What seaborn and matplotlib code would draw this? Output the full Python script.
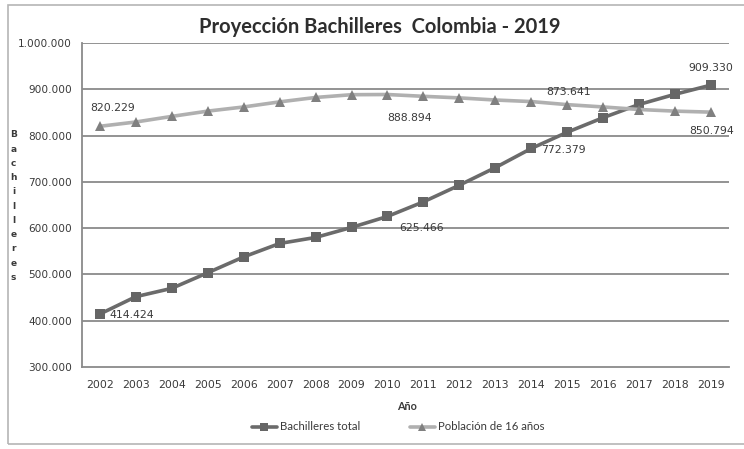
import matplotlib
matplotlib.use("Agg")
import matplotlib.pyplot as plt
import matplotlib.ticker as mticker
from matplotlib.patches import Rectangle
from matplotlib.lines import Line2D
import seaborn as sns
import pandas as pd

years = list(range(2002, 2020))
bachilleres = [414424, 452000, 470000, 503700, 538000, 567000, 580000, 601700, 625466,
               657000, 693000, 731000, 772379, 807500, 839000, 867500, 889500, 909330]
poblacion = [820229, 829500, 841600, 853000, 862000, 873000, 882500, 888500, 888894,
             885000, 881600, 877000, 873641, 867000, 862000, 856500, 853000, 850794]
series_names = ["Bachilleres total", "Población de 16 años"]
yticks = [300000, 400000, 500000, 600000, 700000, 800000, 900000, 1000000]

df = pd.concat([
    pd.DataFrame({"Año": years, "valor": bachilleres, "serie": series_names[0]}),
    pd.DataFrame({"Año": years, "valor": poblacion, "serie": series_names[1]}),
])

sns.set_theme(style="white")
plt.rcParams["font.family"] = ["DejaVu Sans"]

fig = plt.figure(figsize=(7.44, 4.49), dpi=100)
ax = fig.add_axes([0.110, 0.1826, 0.870, 0.7214])

grid_c = "#8a8a8a"
for v in yticks[1:]:
    ax.axhline(v, color=grid_c, lw=1.3, zorder=0)

palette = {series_names[0]: "#6b6b6b", series_names[1]: "#b0b0b0"}
markers = {series_names[0]: "s", series_names[1]: "^"}
sns.lineplot(data=df, x="Año", y="valor", hue="serie", style="serie",
             palette=palette, markers=markers, dashes=False, lw=2.6,
             markersize=7, markeredgewidth=0, ax=ax, legend=False, zorder=3)
for line, mc in zip(ax.get_lines()[-2:], ["#666666", "#808080"]):
    line.set_markerfacecolor(mc)
ax.get_lines()[-1].set_markersize(6.5)

ax.set_xlim(2001.5, 2019.5)
ax.set_ylim(300000, 1000000)
ax.set_xticks(years)
ax.set_xticks([y + 0.5 for y in [2001] + years], minor=True)
ax.set_yticks(yticks)
ax.yaxis.set_major_formatter(mticker.FuncFormatter(lambda v, p: f"{int(v):,}".replace(",", ".")))
ax.tick_params(axis="x", which="major", length=0, labelsize=7.8, colors="#3a3a3a", pad=9)
ax.tick_params(axis="x", which="minor", length=4, width=1.2, color=grid_c, direction="out")
ax.tick_params(axis="y", length=4, width=1.2, color=grid_c, labelsize=7.6, labelcolor="#3a3a3a", pad=3)
for s in ["top", "right"]:
    ax.spines[s].set_visible(False)
for s in ["left", "bottom"]:
    ax.spines[s].set_color(grid_c)
    ax.spines[s].set_linewidth(1.3)
ax.set_xlabel("")
ax.set_ylabel("")
ax.set_facecolor("white")

lab_kw = dict(textcoords="offset pixels", ha="center", va="center", fontsize=7.8, color="#3a3a3a", zorder=5)
def lab(series, yr, dx, dy):
    v = series[years.index(yr)]
    ax.annotate(f"{v:,}".replace(",", "."), (yr, v), xytext=(dx, dy), **lab_kw)

lab(bachilleres, 2002, 32, -1)
lab(bachilleres, 2010, 34, -12)
lab(bachilleres, 2014, 32, -2)
lab(bachilleres, 2019, 0, 17)
lab(poblacion, 2002, 13, 18)
lab(poblacion, 2010, 22, -23)
lab(poblacion, 2014, 37, 10)
lab(poblacion, 2019, 0, -19)

fig.text(0.510, 0.939, "Proyección Bachilleres  Colombia - 2019", ha="center", va="center",
         fontsize=14.5, fontweight="bold", color="#2e2e2e", family=["Lato", "DejaVu Sans"])
fig.text(0.018, 0.541, "\n".join("Bachilleres"), ha="center", va="center", fontsize=6.5,
         fontweight="bold", color="#3a3a3a", linespacing=1.75)
fig.text(0.547, 0.094, "Año", ha="center", va="center", fontsize=7.8, fontweight="bold",
         color="#3a3a3a", family=["Lato", "DejaVu Sans"])

handles = [Line2D([], [], color="#6b6b6b", lw=2.6, marker="s", markersize=6, markeredgewidth=0,
                  markerfacecolor="#666666"),
           Line2D([], [], color="#b0b0b0", lw=2.6, marker="^", markersize=6, markeredgewidth=0,
                  markerfacecolor="#808080")]
fig.legend(handles, series_names, loc="center", bbox_to_anchor=(0.535, 0.049), ncol=2,
           frameon=False, handlelength=2.2, handletextpad=0.25, columnspacing=4.4,
           prop={"family": ["Lato", "DejaVu Sans"], "size": 8.2}, labelcolor="#3a3a3a")

fig.patches.append(Rectangle((8 / 744, 5 / 449), 1.0, 1 - 10 / 449, transform=fig.transFigure,
                             fill=False, edgecolor="#b5b5b5", lw=1.2, zorder=0))

fig.savefig("out.png", dpi=100, facecolor="white")
